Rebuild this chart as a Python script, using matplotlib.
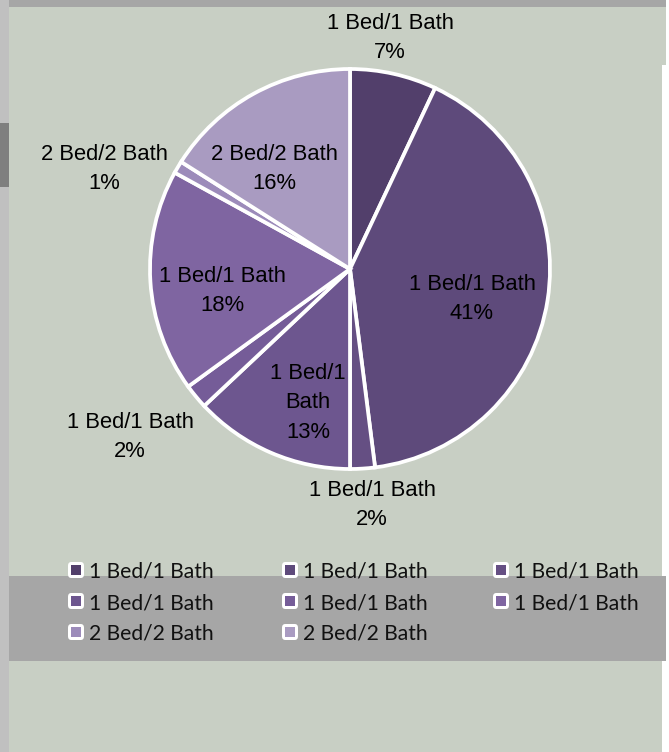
import matplotlib
matplotlib.use("Agg")
import matplotlib.pyplot as plt
from matplotlib.patches import Rectangle, FancyBboxPatch

# ---- data ----
labels = ["1 Bed/1 Bath", "1 Bed/1 Bath", "1 Bed/1 Bath", "1 Bed/1 Bath",
          "1 Bed/1 Bath", "1 Bed/1 Bath", "2 Bed/2 Bath", "2 Bed/2 Bath"]
values = [7, 41, 2, 13, 2, 18, 1, 16]
colors = ["#523f6b", "#5e4a7b", "#654f83", "#6d568f", "#755c98", "#7f65a1",
          "#9c8bba", "#a99bc1"]

# label text layout (offsets in units of pie radius)
label_offsets = [(0.20, 1.155), (0.61, -0.15), (0.11, -1.18), (-0.21, -0.67),
                 (-1.10, -0.84), (-0.64, -0.11), (-1.23, 0.50), (-0.38, 0.50)]
label_wrap = [None, None, None, "1 Bed/1\nBath", None, None, None, None]

W, H = 669, 752
fig = plt.figure(figsize=(W / 100, H / 100), dpi=100)
bg = "#c8cfc4"
fig.patch.set_facecolor("white")

def px_rect(x0, y0, x1, y1, color, z=0):
    fig.patches.append(Rectangle((x0 / W, 1 - y1 / H), (x1 - x0) / W, (y1 - y0) / H,
                                 transform=fig.transFigure, facecolor=color,
                                 edgecolor="none", zorder=z))

# background panels
px_rect(9, 0, 666, 65, bg)
px_rect(9, 65, 662, 752, bg)
px_rect(9, 0, 666, 7, "#a6a6a6", 1)
px_rect(0, 0, 9, 752, "#c0c0c0", 1)
px_rect(0, 123, 9, 187, "#7f7f7f", 2)
px_rect(9, 576, 666, 661, "#a6a6a6", 1)

# pie axes: centre (350, 269) px, radius 198 px
cx, cy, R, half = 350, 269, 198, 250
ax = fig.add_axes([(cx - half) / W, 1 - (cy + half) / H, 2 * half / W, 2 * half / H])
ax.set_zorder(10)
ax.set_xlim(-half / R, half / R)
ax.set_ylim(-half / R, half / R)
ax.axis("off")
ax.patch.set_alpha(0)

ax.pie(values, colors=colors, startangle=90, counterclock=False, radius=1,
       wedgeprops=dict(edgecolor="white", linewidth=2.7))

for lab, v, (dx, dy), wrap in zip(labels, values, label_offsets, label_wrap):
    txt = (wrap if wrap else lab) + f"\n{v}%"
    ax.text(dx, dy, txt, ha="center", va="center", fontsize=15.8,
            family="Liberation Sans", color="black", linespacing=1.52,
            clip_on=False)

# legend (row-major, 3 columns)
col_x = [68, 282, 493]
row_y = [570, 601, 632]
for i, (lab, c) in enumerate(zip(labels, colors)):
    r, k = divmod(i, 3)
    x0, yc = col_x[k], row_y[r]
    fig.patches.append(FancyBboxPatch((x0 / W, 1 - (yc + 8) / H), 16 / W, 16 / H,
                                      boxstyle="round,pad=0,rounding_size=0.005",
                                      transform=fig.transFigure, facecolor="white",
                                      edgecolor="none", zorder=3))
    px_rect(x0 + 3, yc - 5, x0 + 13, yc + 5, c, 4)
    fig.text((x0 + 21) / W, 1 - yc / H, lab, ha="left", va="center_baseline",
             fontsize=15.2, family="Lato", color="#111111", zorder=5)

fig.savefig("out.png", dpi=100)
